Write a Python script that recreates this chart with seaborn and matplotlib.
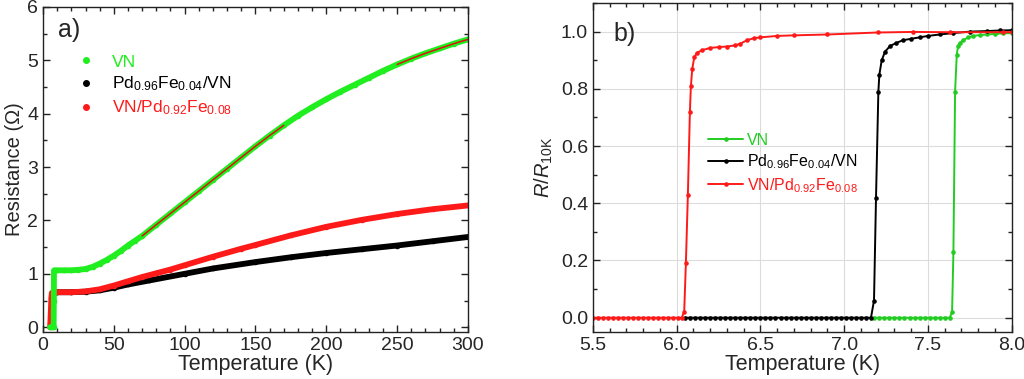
import numpy as np
import pandas as pd
import matplotlib
matplotlib.use("Agg")
import matplotlib.pyplot as plt
import seaborn as sns
from matplotlib.ticker import MultipleLocator
from matplotlib.lines import Line2D

sns.set_style("white")
plt.rcParams['font.family'] = ['Liberation Sans', 'DejaVu Sans']
plt.rcParams['mathtext.fontset'] = 'custom'
plt.rcParams['mathtext.rm'] = 'Liberation Sans'
plt.rcParams['mathtext.it'] = 'Liberation Sans:italic'

# ---------------- panel a) data ----------------
T_vn = [5, 6, 7, 7.5, 7.65, 7.75, 8, 10, 15, 20, 25, 30, 35, 40, 45, 50, 55, 60, 65, 70,
        80, 90, 100, 110, 120, 130, 140, 150, 160, 170, 180, 190, 200, 210, 220,
        230, 240, 250, 260, 270, 280, 290, 300]
R_vn = [0.0, 0.0, 0.0, 0.0, 0.5, 1.06, 1.065, 1.065, 1.065, 1.065, 1.075, 1.09, 1.13, 1.19,
        1.26, 1.34, 1.43, 1.53, 1.62, 1.71, 1.92, 2.13, 2.34, 2.55, 2.76, 2.97, 3.18,
        3.39, 3.59, 3.78, 3.96, 4.12, 4.27, 4.41, 4.54, 4.67, 4.8, 4.92, 5.03, 5.13, 5.22,
        5.31, 5.39]

T_pdfe = [8, 10, 20, 30, 40, 50, 60, 75, 100, 120, 150, 175, 200, 225, 250, 275, 300]
R_pdfe = [0.64, 0.655, 0.655, 0.665, 0.69, 0.74, 0.8, 0.875, 1.0, 1.1, 1.22,
          1.31, 1.39, 1.46, 1.53, 1.61, 1.69]

T_vnpd = [5, 5.3, 5.6, 5.9, 6.2, 7, 10, 20, 30, 40, 50, 60, 70, 80, 90, 100, 120, 140,
          150, 175, 200, 225, 250, 275, 300]
R_vnpd = [0.0, 0.15, 0.35, 0.55, 0.64, 0.655, 0.655, 0.655, 0.67, 0.71, 0.78, 0.86, 0.94,
          1.01, 1.08, 1.16, 1.32, 1.47, 1.54, 1.72, 1.88, 2.01, 2.12, 2.21, 2.28]

# fitted segments (thin red line on VN curve)
fit_ranges = [(70, 170), (250, 300)]

# ---------------- panel b) data ----------------
Tb_vn = [7.18, 7.21, 7.24, 7.27, 7.30, 7.33, 7.36, 7.39, 7.42, 7.45, 7.48, 7.51, 7.54,
         7.57, 7.60, 7.63, 7.644, 7.652, 7.662, 7.672, 7.68,
         7.69, 7.71, 7.74, 7.77, 7.81, 7.85, 7.9, 7.95, 8.0]
Rb_vn = [0, 0, 0, 0, 0, 0, 0, 0, 0, 0, 0, 0, 0, 0, 0, 0, 0.02, 0.23, 0.79, 0.92, 0.95,
         0.96, 0.97, 0.98, 0.985, 0.988, 0.99, 0.992, 0.994, 0.995]

Tb_pd = [6.05, 6.08, 6.11, 6.14, 6.17, 6.20, 6.23, 6.26, 6.29, 6.32, 6.35, 6.38, 6.41,
         6.44, 6.47, 6.50, 6.53, 6.56, 6.59, 6.62, 6.65, 6.68, 6.71, 6.74, 6.77, 6.80,
         6.83, 6.86, 6.89, 6.92, 6.95, 6.98, 7.01, 7.04, 7.07, 7.10, 7.13, 7.16,
         7.178, 7.19, 7.204, 7.21, 7.224, 7.244, 7.274, 7.31, 7.35, 7.4, 7.45, 7.5,
         7.57, 7.65, 7.75, 7.85, 7.93, 8.0]
Rb_pd = [0, 0, 0, 0, 0, 0, 0, 0, 0, 0, 0, 0, 0, 0, 0, 0, 0, 0, 0, 0, 0, 0, 0, 0, 0, 0,
         0, 0, 0, 0, 0, 0, 0, 0, 0, 0, 0, 0,
         0.06, 0.42, 0.79, 0.85, 0.9, 0.93, 0.95, 0.96, 0.97, 0.975, 0.98, 0.985, 0.99,
         0.995, 1.0, 1.002, 1.004, 1.005]

Tb_vp = [5.50, 5.53, 5.56, 5.59, 5.62, 5.65, 5.68, 5.71, 5.74, 5.77, 5.80, 5.83, 5.86,
         5.89, 5.92, 5.95, 5.98, 6.01, 6.03, 6.045, 6.055,
         6.067, 6.079, 6.085, 6.093, 6.105, 6.12, 6.15, 6.2, 6.25, 6.3, 6.35, 6.38,
         6.42, 6.46, 6.5, 6.6, 6.7, 6.9, 7.2, 7.41, 7.63, 7.95, 8.0]
Rb_vp = [0, 0, 0, 0, 0, 0, 0, 0, 0, 0, 0, 0, 0, 0, 0, 0, 0, 0, 0, 0.02, 0.19,
         0.43, 0.72, 0.81, 0.87, 0.91, 0.925, 0.935, 0.943, 0.946, 0.948, 0.952, 0.958,
         0.97, 0.977, 0.98, 0.985, 0.987, 0.99, 0.997, 0.999, 0.998, 0.998, 0.998]

labels = ['VN', r'Pd$_{0.96}$Fe$_{0.04}$/VN', r'VN/Pd$_{0.92}$Fe$_{0.08}$']
col_a = ['#1fee1f', '#000000', '#ff1a1a']
col_b = ['#22cc22', '#000000', '#ff1a1a']

fig = plt.figure(figsize=(10.24, 3.79), dpi=100)
axA = fig.add_axes([0.042, 0.124, 0.415, 0.858])
axB = fig.add_axes([0.579, 0.124, 0.409, 0.868])

# ---- panel a
dfa = [pd.DataFrame({'T': T_vn, 'R': R_vn}),
       pd.DataFrame({'T': T_pdfe, 'R': R_pdfe}),
       pd.DataFrame({'T': T_vnpd, 'R': R_vnpd})]
for i in [1, 2, 0]:
    sns.lineplot(data=dfa[i], x='T', y='R', ax=axA, color=col_a[i], lw=4.2,
                 marker='o', markersize=4, markeredgewidth=0, sort=False,
                 solid_capstyle='round', solid_joinstyle='round', estimator=None)
dvn = dfa[0]
for lo, hi in fit_ranges:
    seg = dvn[(dvn['T'] >= lo) & (dvn['T'] <= hi)]
    sns.lineplot(data=seg, x='T', y='R', ax=axA, color='#e01010', lw=1.1,
                 sort=False, estimator=None)

axA.set_xlim(0, 300)
axA.set_ylim(-0.09, 6)
axA.xaxis.set_major_locator(MultipleLocator(50))
axA.xaxis.set_minor_locator(MultipleLocator(10))
axA.yaxis.set_major_locator(MultipleLocator(1))
axA.yaxis.set_minor_locator(MultipleLocator(0.5))
axA.set_xlabel('Temperature (K)', fontsize=15.5, labelpad=0)
axA.set_ylabel('Resistance (Ω)', fontsize=14.5, labelpad=2)
axA.text(0.035, 0.93, 'a)', transform=axA.transAxes, fontsize=18, va='center')

hA = [Line2D([], [], ls='none', marker='o', color=col_a[i], markersize=4) for i in range(3)]
legA = axA.legend(hA, labels, loc='upper left', bbox_to_anchor=(0.06, 0.875), frameon=False,
                  fontsize=12.5, handlelength=1.2, handletextpad=0.9, labelspacing=0.3,
                  borderaxespad=0)
for t, c in zip(legA.get_texts(), col_a):
    t.set_color(c)

# ---- panel b
dfb = [pd.DataFrame({'T': Tb_vn, 'R': Rb_vn}),
       pd.DataFrame({'T': Tb_pd, 'R': Rb_pd}),
       pd.DataFrame({'T': Tb_vp, 'R': Rb_vp})]
for i in [0, 1, 2]:
    sns.lineplot(data=dfb[i], x='T', y='R', ax=axB, color=col_b[i], lw=1.4,
                 marker='o', markersize=3.3, markeredgewidth=0, sort=False,
                 estimator=None, label=labels[i])
axB.set_xlim(5.5, 8.0)
axB.set_ylim(-0.05, 1.1)
axB.xaxis.set_major_locator(MultipleLocator(0.5))
axB.xaxis.set_minor_locator(MultipleLocator(0.1))
axB.yaxis.set_major_locator(MultipleLocator(0.2))
axB.yaxis.set_minor_locator(MultipleLocator(0.1))
axB.grid(True, which='major', color='#dcdcdc', lw=0.8)
axB.set_axisbelow(True)
axB.set_xlabel('Temperature (K)', fontsize=15.5, labelpad=0)
axB.set_ylabel(r'$R/R_{\mathrm{10K}}$', fontsize=14.5, labelpad=4)
axB.text(0.05, 0.905, 'b)', transform=axB.transAxes, fontsize=18, va='center')
legB = axB.legend(loc='upper left', bbox_to_anchor=(0.26, 0.625), frameon=False,
                  fontsize=11.5, handlelength=2.2, handletextpad=0.2, labelspacing=0.3,
                  borderaxespad=0)
for t, c in zip(legB.get_texts(), col_b):
    t.set_color(c)

for ax in (axA, axB):
    ax.tick_params(which='both', direction='in', top=True, right=True,
                   bottom=True, left=True, labelsize=14, color='#222222')
    ax.tick_params(which='major', length=5, width=1)
    ax.tick_params(which='minor', length=3, width=1)
    for s in ax.spines.values():
        s.set_color('#222222')
        s.set_linewidth(1.0)

fig.savefig('out.png', dpi=100)
